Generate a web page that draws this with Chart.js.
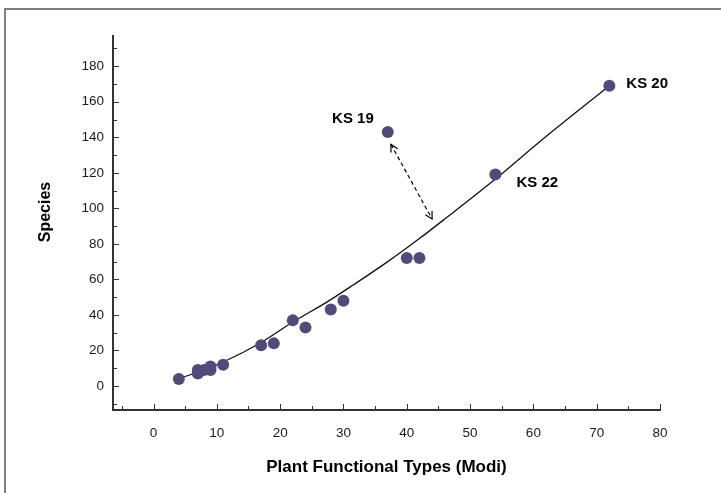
<!DOCTYPE html>
<html>
<head>
<meta charset="utf-8">
<script src="https://cdn.jsdelivr.net/npm/chart.js@4.4.1/dist/chart.umd.min.js"></script>
<style>
  html, body { margin: 0; padding: 0; background: #fff; }
  #wrap { position: relative; width: 721px; height: 493px; }
</style>
</head>
<body>
<div id="wrap"><canvas id="c" width="721" height="493"></canvas></div>
<script>
// Plant functional types (Modi) and species counts per site
const pftValues     = [4, 7, 7, 8, 9, 9, 11, 17, 19, 22, 24, 28, 30, 37, 40, 42, 54, 72];
const speciesValues = [4, 7, 9, 9, 9, 11, 12, 23, 24, 37, 33, 43, 48, 143, 72, 72, 119, 169];
const siteLabels    = ['', '', '', '', '', '', '', '', '', '', '', '', '', 'KS 19', '', '', 'KS 22', 'KS 20'];

// Fitted trend curve, sampled along its length
const trendX = [4, 11, 17, 22, 27.5, 31.6, 37, 42, 46, 54, 61, 72];
const trendY = [4, 13.5, 24.5, 36, 47.5, 57, 70, 83, 94, 116.5, 137.5, 169];

// Outlier arrow (KS 19 towards the curve), in axis units
const arrowStart = [37.5, 136];
const arrowEnd   = [44, 94];

// Axis extents and tick spacing
const xRange = [-6.4, 80];
const yRange = [-13.5, 197];
const xMajor = 10, xMinor = 5;
const yMajor = 20, yMinor = 10;

const FONT = '"Liberation Sans", Arial, sans-serif';
const INK = '#1a1a1a';
const DOT = 'rgb(80,75,122)';

// where each site name sits relative to its dot (px)
const labelPlacement = {
  'KS 19': { dx: -14, dy: -13, align: 'right' },
  'KS 22': { dx: 21, dy: 8, align: 'left' },
  'KS 20': { dx: 17, dy: -2, align: 'left' }
};

const points = pftValues.map((x, i) => ({ x: x, y: speciesValues[i] }));
const trend = trendX.map((x, i) => ({ x: x, y: trendY[i] }));

// Inward tick marks, axis titles, site names, arrow and frame
const decorations = {
  id: 'decorations',
  beforeDraw(chart) {
    const ctx = chart.ctx;
    ctx.save();
    ctx.strokeStyle = '#555';
    ctx.lineWidth = 1.5;
    ctx.beginPath();
    ctx.moveTo(5, 493);
    ctx.lineTo(5, 9);
    ctx.lineTo(721, 9);
    ctx.stroke();
    ctx.restore();
  },
  afterDraw(chart) {
    const ctx = chart.ctx;
    const xs = chart.scales.x, ys = chart.scales.y;
    const area = chart.chartArea;
    ctx.save();
    ctx.strokeStyle = '#333';
    ctx.lineWidth = 1;
    // x ticks pointing up into the plot
    for (let v = Math.ceil(xRange[0] / xMinor) * xMinor; v <= xRange[1] + 1e-9; v += xMinor) {
      const px = Math.round(xs.getPixelForValue(v)) + 0.5;
      const len = (v % xMajor === 0) ? 6 : 4;
      ctx.beginPath();
      ctx.moveTo(px, area.bottom);
      ctx.lineTo(px, area.bottom - len);
      ctx.stroke();
    }
    // y ticks pointing right into the plot
    for (let v = Math.ceil(yRange[0] / yMinor) * yMinor; v <= yRange[1] + 1e-9; v += yMinor) {
      const py = Math.round(ys.getPixelForValue(v)) + 0.5;
      const len = (v % yMajor === 0) ? 6 : 4;
      ctx.beginPath();
      ctx.moveTo(area.left, py);
      ctx.lineTo(area.left + len, py);
      ctx.stroke();
    }

    // axis titles
    ctx.fillStyle = '#000';
    ctx.font = 'bold 17px ' + FONT;
    ctx.textAlign = 'center';
    ctx.textBaseline = 'middle';
    ctx.fillText('Plant Functional Types (Modi)', (area.left + area.right) / 2, 467);
    ctx.save();
    ctx.translate(46, 212);
    ctx.rotate(-Math.PI / 2);
    ctx.font = 'bold 16px ' + FONT;
    ctx.fillText('Species', 0, 0);
    ctx.restore();

    // site names
    ctx.font = 'bold 15px ' + FONT;
    points.forEach((p, i) => {
      const name = siteLabels[i];
      if (!name) return;
      const pl = labelPlacement[name];
      ctx.textAlign = pl.align;
      ctx.fillText(name, xs.getPixelForValue(p.x) + pl.dx, ys.getPixelForValue(p.y) + pl.dy);
    });

    // dashed double-headed arrow
    const x1 = xs.getPixelForValue(arrowStart[0]), y1 = ys.getPixelForValue(arrowStart[1]);
    const x2 = xs.getPixelForValue(arrowEnd[0]), y2 = ys.getPixelForValue(arrowEnd[1]);
    ctx.strokeStyle = '#000';
    ctx.lineWidth = 1.2;
    ctx.setLineDash([4, 3]);
    ctx.beginPath();
    ctx.moveTo(x1, y1);
    ctx.lineTo(x2, y2);
    ctx.stroke();
    ctx.setLineDash([]);
    const head = (tx, ty, fx, fy) => {
      const a = Math.atan2(ty - fy, tx - fx);
      const L = 8, w = 0.5;
      ctx.beginPath();
      ctx.moveTo(tx - L * Math.cos(a - w), ty - L * Math.sin(a - w));
      ctx.lineTo(tx, ty);
      ctx.lineTo(tx - L * Math.cos(a + w), ty - L * Math.sin(a + w));
      ctx.stroke();
    };
    head(x1, y1, x2, y2);
    head(x2, y2, x1, y1);
    ctx.restore();
  }
};

new Chart(document.getElementById('c'), {
  type: 'scatter',
  data: {
    datasets: [
      {
        label: 'Sites',
        data: points,
        pointRadius: 6,
        pointHoverRadius: 6,
        pointBackgroundColor: DOT,
        pointBorderWidth: 0,
        borderWidth: 0,
        showLine: false
      },
      {
        label: 'Trend',
        data: trend,
        showLine: true,
        pointRadius: 0,
        borderColor: '#111',
        borderWidth: 1.3,
        cubicInterpolationMode: 'monotone',
        fill: false
      }
    ]
  },
  options: {
    responsive: false,
    animation: false,
    devicePixelRatio: 1,
    layout: { padding: { left: 0, right: 61, top: 36, bottom: 0 } },
    plugins: { legend: { display: false }, tooltip: { enabled: false } },
    scales: {
      x: {
        type: 'linear',
        min: xRange[0],
        max: xRange[1],
        grid: { display: false, drawTicks: false },
        border: { display: true, color: '#333', width: 2 },
        ticks: {
          stepSize: xMinor,
          includeBounds: false,
          autoSkip: false,
          maxRotation: 0,
          padding: 15,
          color: INK,
          font: { family: FONT, size: 13.5 },
          callback: v => (v % xMajor === 0 ? String(v) : '')
        },
        afterFit: s => { s.height = 83; }
      },
      y: {
        type: 'linear',
        min: yRange[0],
        max: yRange[1],
        grid: { display: false, drawTicks: false },
        border: { display: true, color: '#333', width: 2 },
        ticks: {
          stepSize: yMinor,
          includeBounds: false,
          autoSkip: false,
          padding: 9,
          color: INK,
          font: { family: FONT, size: 13.5 },
          callback: v => (v % yMajor === 0 ? String(v) : '')
        },
        afterFit: s => { s.width = 113; }
      }
    }
  },
  plugins: [decorations]
});
</script>
</body>
</html>
